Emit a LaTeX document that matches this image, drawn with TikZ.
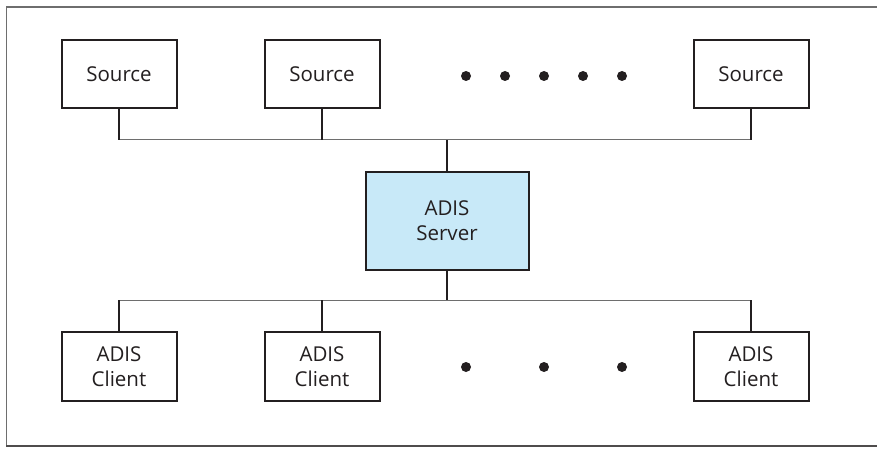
\documentclass[tikz,border=0pt]{standalone}
\usepackage{fontspec}
\setmainfont{Open Sans}
\definecolor{inkdark}{RGB}{35,31,32}
\definecolor{framegray}{RGB}{110,110,110}
\definecolor{serverblue}{RGB}{200,233,248}
\tikzset{
  unitbox/.style={draw=inkdark, line width=2pt, fill=white, text=inkdark,
    minimum width=115pt, minimum height=68pt, inner sep=0pt, align=center,
    font=\fontsize{20.5}{25}\selectfont},
  serverbox/.style={unitbox, fill=serverblue, minimum width=163pt, minimum height=98pt},
  busline/.style={draw=framegray, line width=1pt},
  stubline/.style={draw=inkdark, line width=1.6pt},
  dotmark/.style={circle, fill=inkdark, inner sep=0pt, minimum size=10pt}
}
\begin{document}
\begin{tikzpicture}
% pixel grid, origin top left
\def\px{1pt}
\begin{scope}[x=\px, y=-\px, line cap=butt, line join=miter]
  \useasboundingbox (0,0) rectangle (877,449);
  % Frame, open on the right
  \draw[framegray, line width=2pt] (6,7) -- (877,7);
  \draw[framegray, line width=1pt] (6,7) -- (6,446);
  \draw[inkdark!80, line width=1.5pt] (6,446) -- (877,446);
  % Buses
  \coordinate (topbus) at (447,140);
  \coordinate (lowbus) at (447,300);
  % Sources
  \node[unitbox] (src1) at (119,74) {Source};
  \node[unitbox] (src2) at (322,74) {Source};
  \node[unitbox] (src3) at (751,74) {Source};
  % Server
  \node[serverbox] (srv) at (447,221) {ADIS\\Server};
  % Clients
  \node[unitbox, minimum height=69pt] (cli1) at (119,366.5) {ADIS\\Client};
  \node[unitbox, minimum height=69pt] (cli2) at (322,366.5) {ADIS\\Client};
  \node[unitbox, minimum height=69pt] (cli3) at (751,366.5) {ADIS\\Client};
  % Dots between boxes
  \foreach \i/\x in {1/466,2/505,3/544,4/583,5/622}
    \node[dotmark] (tdot\i) at (\x,76) {};
  \foreach \i/\x in {1/466,2/544,3/622}
    \node[dotmark] (bdot\i) at (\x,367) {};
  % Top bus and stubs
  \draw[busline] (src1.south |- topbus) -- (src3.south |- topbus);
  \draw[stubline] (src1.south) -- (src1.south |- topbus);
  \draw[stubline] (src2.south) -- (src2.south |- topbus);
  \draw[stubline] (src3.south) -- (src3.south |- topbus);
  \draw[stubline] (srv.north) -- (topbus);
  % Lower bus and stubs
  \draw[busline] (cli1.north |- lowbus) -- (cli3.north |- lowbus);
  \draw[stubline] (srv.south) -- (lowbus);
  \draw[stubline] (cli1.north) -- (cli1.north |- lowbus);
  \draw[stubline] (cli2.north) -- (cli2.north |- lowbus);
  \draw[stubline] (cli3.north) -- (cli3.north |- lowbus);
\end{scope}
\end{tikzpicture}
\end{document}
